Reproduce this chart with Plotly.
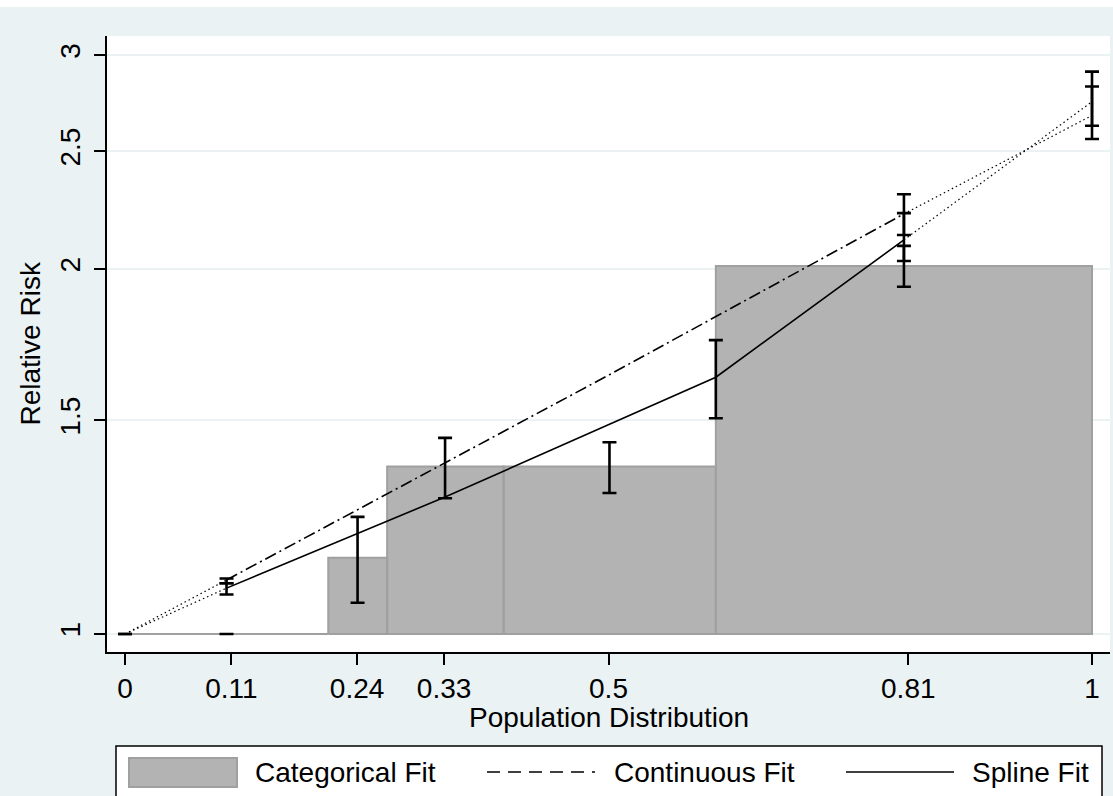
import plotly.graph_objects as go

# ---------------- data ----------------
# Categorical fit: category edges on the population-distribution scale and RR per category
cat_edges = [0.0, 0.2102, 0.2711, 0.3915, 0.611, 1.0]
cat_rr = [1.0, 1.156, 1.374, 1.374, 2.011]
cat_mid = [0.105, 0.2405, 0.331, 0.501, 0.8055]
cat_lo = [1.0, 1.061, 1.294, 1.307, 1.933]
cat_hi = [1.0, 1.249, 1.451, 1.439, 2.089]

# Continuous (log-linear) fit
cont_x = [0.0, 0.105, 0.2405, 0.331, 0.501, 0.8055, 1.0]
cont_rr = [1.0, 1.108, 1.266, 1.384, 1.636, 2.220, 2.676]
cont_ci_x = [0.0, 0.105, 0.8055, 1.0]
cont_lo = [1.0, 1.101, 2.133, 2.624]
cont_hi = [1.0, 1.111, 2.304, 2.827]

# Spline fit
spl_x = [0.0, 0.105, 0.2405, 0.331, 0.501, 0.611, 0.8055, 1.0]
spl_rr = [1.0, 1.091, 1.210, 1.297, 1.489, 1.628, 2.113, 2.747]
spl_ci_x = [0.0, 0.105, 0.611, 0.8055, 1.0]
spl_lo = [1.0, 1.078, 1.506, 2.030, 2.559]
spl_hi = [1.0, 1.101, 1.747, 2.223, 2.908]

x_tick_vals = [0, 0.11, 0.24, 0.33, 0.5, 0.81, 1]
x_tick_text = ["0", "0.11", "0.24", "0.33", "0.5", "0.81", "1"]
y_tick_vals = [1, 1.5, 2, 2.5, 3]
y_tick_text = ["1", "1.5", "2", "2.5", "3"]
legend_labels = ["Categorical Fit", "Continuous Fit", "Spline Fit"]
x_title = "Population Distribution"
y_title = "Relative Risk"
baseline_rr = 1.0

# ---------------- styling / layout constants ----------------
FONT = "Liberation Sans, Arial, sans-serif"
FS = 28
BG = "#eaf2f3"
BAR_FILL = "#b3b3b3"
BAR_LINE = "#a0a0a0"
W, H = 1113, 796
L, R, T, B = 107, 1110, 36, 652


def px(x):
    return (x - L) / (R - L)


def py(y):
    return (B - y) / (B - T)


fig = go.Figure()

# categorical fit rectangles
bx, by = [], []
for i, v in enumerate(cat_rr):
    x0, x1 = cat_edges[i], cat_edges[i + 1]
    bx += [x0, x1, x1, x0, x0, None]
    by += [baseline_rr, baseline_rr, v, v, baseline_rr, None]
fig.add_trace(go.Scatter(x=bx, y=by, mode="lines", fill="toself",
                         fillcolor=BAR_FILL, line=dict(color=BAR_LINE, width=2),
                         hoverinfo="skip", name=legend_labels[0]))

DOT = "1.5px,3px"
# continuous fit: dotted extrapolation at both ends, dash-dot in the middle
fig.add_trace(go.Scatter(x=cont_x[:2], y=cont_rr[:2], mode="lines",
                         line=dict(color="black", width=1.2, dash=DOT)))
fig.add_trace(go.Scatter(x=cont_x[-2:], y=cont_rr[-2:], mode="lines",
                         line=dict(color="black", width=1.2, dash=DOT)))
fig.add_trace(go.Scatter(x=cont_x[1:-1], y=cont_rr[1:-1], mode="lines",
                         line=dict(color="black", width=1.6, dash="12px,4px,2px,4px"),
                         name=legend_labels[1]))
# spline fit
fig.add_trace(go.Scatter(x=spl_x[:2], y=spl_rr[:2], mode="lines",
                         line=dict(color="black", width=1.2, dash=DOT)))
fig.add_trace(go.Scatter(x=spl_x[-2:], y=spl_rr[-2:], mode="lines",
                         line=dict(color="black", width=1.2, dash=DOT)))
fig.add_trace(go.Scatter(x=spl_x[1:-1], y=spl_rr[1:-1], mode="lines",
                         line=dict(color="black", width=1.6), name=legend_labels[2]))


def ci_trace(xs, lo, hi):
    return go.Scatter(
        x=xs, y=lo, mode="markers",
        marker=dict(size=1, color="rgba(0,0,0,0)"),
        error_y=dict(type="data", symmetric=False,
                     array=[h - l for l, h in zip(lo, hi)],
                     arrayminus=[0] * len(lo),
                     color="black", thickness=2.6, width=7),
        hoverinfo="skip")


fig.add_trace(ci_trace(cat_mid, cat_lo, cat_hi))
fig.add_trace(ci_trace(cont_ci_x, cont_lo, cont_hi))
fig.add_trace(ci_trace(spl_ci_x, spl_lo, spl_hi))

fig.update_layout(
    width=W, height=H,
    margin=dict(l=L, r=W - R, t=T, b=H - B, pad=0),
    paper_bgcolor=BG, plot_bgcolor="white",
    showlegend=False,
    font=dict(family=FONT, size=FS, color="black"),
)
fig.update_xaxes(
    range=[-0.0186, 1.0186], tickvals=x_tick_vals, ticktext=x_tick_text,
    ticks="outside", ticklen=11, tickwidth=1.5, tickcolor="black",
    showline=True, linecolor="black", linewidth=1.5,
    showgrid=False, zeroline=False, tickfont=dict(size=FS),
)
fig.update_yaxes(
    type="log", range=[-0.01484, 0.4930],
    tickvals=y_tick_vals, ticktext=y_tick_text, tickangle=-90,
    ticks="outside", ticklen=11, tickwidth=1.5, tickcolor="black",
    showline=True, linecolor="black", linewidth=1.5,
    showgrid=True, gridcolor=BG, gridwidth=1.5, zeroline=False,
    tickfont=dict(size=FS), ticklabelstandoff=3,
)

shapes = []
annotations = []
# thin white strip at the very top of the image
shapes.append(dict(type="rect", xref="paper", yref="paper",
                   x0=px(-2), x1=px(W + 2), y0=py(7), y1=py(-2),
                   fillcolor="white", line=dict(width=0), layer="below"))
# axis titles
annotations.append(dict(text=x_title, xref="paper", yref="paper",
                        x=0.5, y=py(717), xanchor="center", yanchor="middle",
                        showarrow=False, font=dict(size=FS)))
annotations.append(dict(text=y_title, xref="paper", yref="paper",
                        x=px(29.5), y=0.5, xanchor="center", yanchor="middle",
                        textangle=-90, showarrow=False, font=dict(size=FS)))
# legend box
shapes.append(dict(type="rect", xref="paper", yref="paper",
                   x0=px(116), x1=px(1102), y0=py(746), y1=py(830),
                   fillcolor="white", line=dict(color="black", width=1.5)))
ly = 772
shapes.append(dict(type="rect", xref="paper", yref="paper",
                   x0=px(129), x1=px(237), y0=py(758), y1=py(787),
                   fillcolor=BAR_FILL, line=dict(color=BAR_LINE, width=2)))
shapes.append(dict(type="line", xref="paper", yref="paper",
                   x0=px(487), x1=px(595), y0=py(ly), y1=py(ly),
                   line=dict(color="black", width=1.6, dash="13px,8px")))
shapes.append(dict(type="line", xref="paper", yref="paper",
                   x0=px(846), x1=px(954), y0=py(ly), y1=py(ly),
                   line=dict(color="black", width=1.6)))
for label, xs in zip(legend_labels, [253, 612, 970]):
    annotations.append(dict(text=label, xref="paper", yref="paper",
                            x=px(xs), y=py(ly), xanchor="left", yanchor="middle",
                            showarrow=False, font=dict(size=FS)))

fig.update_layout(shapes=shapes, annotations=annotations)
fig.write_html("out.html", config={"displayModeBar": False},
               post_script="document.body.style.margin='0';document.body.style.overflow='hidden';")
